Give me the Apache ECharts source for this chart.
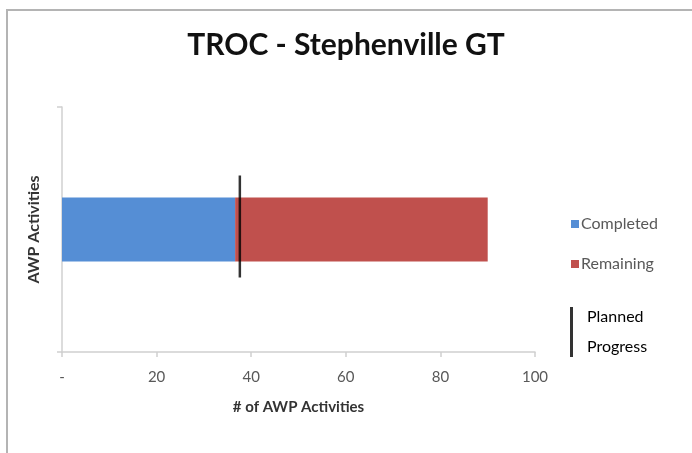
<!DOCTYPE html>
<html>
<head>
<meta charset="utf-8">
<script src="https://cdn.jsdelivr.net/npm/echarts@6/dist/echarts.min.js"></script>
<style>
  html, body { margin: 0; padding: 0; background: #fff; }
  #frame { position: absolute; left: 6px; top: 9px; width: 800px; height: 600px; border: 2px solid #b4b4b4; }
  #main { position: absolute; left: 0; top: 0; width: 692px; height: 453px; }
</style>
</head>
<body>
<div id="frame"></div>
<div id="main"></div>
<script>
// chart data
const categories = ['AWP'];
const completed = [36.6];
const remaining = [53.4];
const planned = [37.6];
const xTicks = [0, 20, 40, 60, 80, 100];

const chartDom = document.getElementById('main');
const myChart = echarts.init(chartDom);

const axisGray = '#d0d0d0';
const labelGray = '#595959';
const fontFam = 'Lato, "Open Sans", sans-serif';

const option = {
  animation: false,
  title: {
    text: 'TROC - Stephenville GT',
    left: 'center',
    top: 25,
    textStyle: { fontFamily: fontFam, fontSize: 30, fontWeight: 'bold', color: '#111' }
  },
  legend: [
    {
      data: ['Completed', 'Remaining'],
      orient: 'vertical',
      left: 566,
      top: 211,
      itemWidth: 8,
      itemHeight: 8,
      itemGap: 24,
      icon: 'rect',
      textStyle: { fontFamily: fontFam, fontSize: 16, color: labelGray, padding: [0, 0, 0, -3] }
    },
    {
      data: ['Planned\nProgress'],
      left: 565,
      top: 297,
      icon: 'rect',
      itemWidth: 3,
      itemHeight: 50,
      itemGap: 0,
      textStyle: { fontFamily: fontFam, fontSize: 16, color: '#000', lineHeight: 30, padding: [0, 0, 0, 9] }
    }
  ],
  grid: { left: 62, right: 157, top: 107, bottom: 101 },
  xAxis: {
    type: 'value',
    min: xTicks[0],
    max: xTicks[xTicks.length - 1],
    interval: 20,
    name: '# of AWP Activities',
    nameLocation: 'middle',
    nameGap: 48,
    nameTextStyle: { fontFamily: fontFam, fontSize: 15, fontWeight: 'bold', color: '#333' },
    axisLine: { show: true, lineStyle: { color: axisGray, width: 1.5 } },
    axisTick: { show: true, length: 5, lineStyle: { color: axisGray, width: 1.5 } },
    splitLine: { show: false },
    axisLabel: {
      fontFamily: fontFam, fontSize: 15, color: labelGray, margin: 18,
      formatter: (v) => (v === 0 ? '-' : String(v))
    }
  },
  yAxis: {
    type: 'category',
    data: categories,
    name: 'AWP Activities',
    nameLocation: 'middle',
    nameGap: 20,
    nameRotate: 90,
    nameTextStyle: { fontFamily: fontFam, fontSize: 16, fontWeight: 'bold', color: '#333' },
    axisLine: { show: true, lineStyle: { color: axisGray, width: 1.5 } },
    axisTick: { show: true, length: 5, lineStyle: { color: axisGray, width: 1.5 } },
    axisLabel: { show: false }
  },
  series: [
    {
      name: 'Completed',
      type: 'bar',
      stack: 'total',
      barWidth: 64,
      itemStyle: { color: '#558ED5' },
      data: completed
    },
    {
      name: 'Remaining',
      type: 'bar',
      stack: 'total',
      barWidth: 64,
      itemStyle: { color: '#C0504D' },
      data: remaining
    },
    {
      name: 'Planned\nProgress',
      type: 'scatter',
      symbol: 'rect',
      symbolSize: [2.5, 102],
      symbolOffset: [0, -3],
      itemStyle: { color: '#000' },
      z: 5,
      data: planned.map((v, i) => [v, i])
    }
  ]
};

option && myChart.setOption(option);
</script>
</body>
</html>
